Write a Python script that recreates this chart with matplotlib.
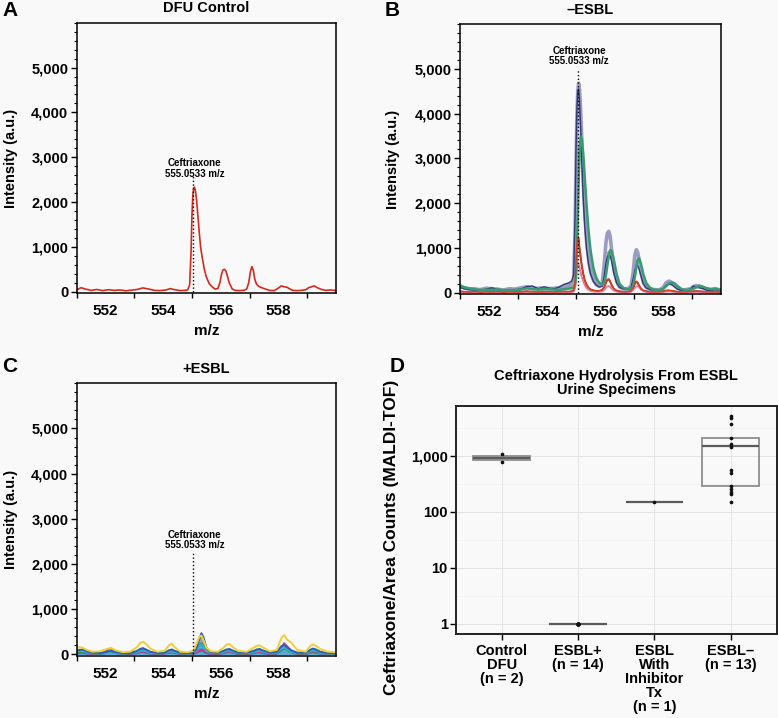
import numpy as np
import matplotlib
matplotlib.use("Agg")
import matplotlib.pyplot as plt
from matplotlib.ticker import FixedLocator, MultipleLocator, FuncFormatter

plt.rcParams['font.family'] = ['Liberation Sans', 'DejaVu Sans']
plt.rcParams['font.weight'] = 'bold'

BG = '#f9f9f9'

# ---- m/z grid used for panels A and B (rows of 10) ----
mz_ab = [551.0, 551.15, 551.3, 551.5, 551.7, 551.9, 552.1, 552.3, 552.5, 552.7,
         552.9, 553.1, 553.3, 553.5, 553.7, 553.9, 554.1, 554.25, 554.4, 554.6,
         554.75, 554.85, 554.92, 554.97, 555.0, 555.03, 555.06, 555.09, 555.12, 555.16,
         555.2, 555.25, 555.3, 555.36, 555.43, 555.5, 555.6, 555.7, 555.8, 555.9,
         555.97, 556.03, 556.08, 556.13, 556.18, 556.23, 556.3, 556.4, 556.5, 556.65,
         556.8, 556.9, 556.97, 557.03, 557.08, 557.13, 557.18, 557.24, 557.32, 557.42,
         557.55, 557.7, 557.85, 558.0, 558.1, 558.2, 558.3, 558.4, 558.5, 558.65,
         558.8, 558.95, 559.05, 559.15, 559.25, 559.35, 559.5, 559.65, 559.8, 560.0]

# Panel A: DFU control
dfu_control = [40, 90, 60, 30, 50, 25, 45, 30, 40, 20,
               35, 50, 85, 60, 30, 25, 40, 70, 45, 25,
               30, 40, 150, 900, 1700, 2150, 2320, 2330, 2250, 2050,
               1750, 1350, 1000, 750, 500, 330, 180, 110, 60, 70,
               200, 400, 490, 500, 460, 350, 190, 60, 30, 25,
               30, 60, 200, 450, 560, 480, 280, 170, 120, 90,
               60, 30, 25, 80, 130, 110, 100, 60, 30, 25,
               30, 45, 90, 110, 130, 90, 50, 30, 40, 25]

# Panel B: -ESBL specimens
neg_gray = [150, 110, 90, 80, 70, 100, 90, 80, 60, 90,
            80, 110, 130, 90, 100, 110, 90, 100, 110, 150,
            180, 220, 300, 1400, 2800, 3900, 4500, 4680, 4550, 4100,
            3400, 2500, 1800, 1200, 750, 480, 280, 180, 140, 200,
            600, 1100, 1330, 1370, 1250, 950, 550, 250, 130, 90,
            90, 160, 450, 850, 960, 900, 700, 450, 230, 120,
            80, 70, 60, 110, 220, 260, 230, 170, 100, 60,
            70, 90, 140, 160, 140, 110, 80, 70, 90, 60]
neg_navy = [120, 90, 70, 60, 50, 80, 110, 70, 50, 60,
            70, 80, 140, 150, 90, 130, 100, 90, 120, 190,
            220, 260, 400, 1800, 3200, 4100, 4500, 4550, 4300, 3700,
            2900, 2100, 1500, 1000, 650, 420, 250, 170, 130, 140,
            350, 650, 800, 850, 820, 700, 450, 220, 120, 80,
            80, 120, 300, 500, 590, 600, 520, 380, 200, 110,
            70, 60, 50, 90, 160, 190, 180, 130, 80, 50,
            60, 80, 150, 120, 110, 100, 60, 50, 70, 40]
neg_green = [160, 120, 100, 80, 60, 70, 60, 80, 50, 60,
             60, 70, 100, 80, 70, 90, 80, 70, 60, 80,
             90, 100, 110, 180, 350, 900, 1700, 2500, 3100, 3480,
             3450, 3100, 2600, 2000, 1400, 950, 550, 330, 220, 180,
             220, 380, 600, 820, 950, 930, 750, 420, 200, 100,
             80, 90, 150, 350, 580, 740, 770, 650, 420, 220,
             110, 70, 60, 80, 140, 200, 230, 210, 150, 80,
             60, 70, 90, 120, 150, 140, 100, 80, 90, 60]
neg_sage = [130, 100, 80, 90, 60, 80, 70, 60, 70, 50,
            70, 90, 110, 100, 80, 70, 90, 80, 90, 110,
            120, 140, 160, 300, 800, 1600, 2400, 2900, 3200, 3300,
            3200, 2800, 2300, 1750, 1200, 800, 450, 280, 190, 170,
            250, 500, 750, 900, 920, 820, 600, 320, 160, 90,
            70, 100, 220, 450, 650, 720, 680, 520, 300, 150,
            90, 60, 50, 90, 170, 210, 200, 160, 110, 60,
            50, 60, 110, 130, 160, 130, 90, 70, 80, 50]
neg_red = [30, 20, 15, 25, 10, 20, 15, 25, 10, 20,
           15, 20, 30, 20, 15, 20, 25, 15, 20, 25,
           20, 30, 50, 250, 700, 1100, 1250, 1200, 1000, 800,
           600, 420, 280, 180, 110, 70, 50, 40, 40, 60,
           120, 220, 290, 300, 250, 170, 90, 45, 30, 20,
           25, 40, 100, 200, 250, 220, 150, 90, 50, 30,
           20, 15, 20, 30, 45, 50, 40, 30, 20, 15,
           20, 25, 30, 35, 30, 25, 20, 15, 20, 10]
neg_pink = [10, 15, 10, 5, 10, 15, 10, 5, 10, 15,
            10, 5, 15, 10, 10, 5, 10, 15, 10, 10,
            10, 15, 20, 100, 350, 580, 660, 640, 560, 450,
            350, 250, 170, 110, 70, 40, 25, 20, 20, 30,
            60, 110, 140, 150, 130, 90, 50, 25, 15, 10,
            10, 20, 60, 110, 140, 150, 120, 70, 40, 20,
            10, 10, 10, 15, 25, 30, 25, 15, 10, 10,
            10, 10, 15, 20, 20, 15, 10, 10, 10, 5]

# ---- m/z grid for panel C ----
mz_c = [551.0, 551.1, 551.2, 551.35, 551.55, 551.8, 552.0, 552.1, 552.2, 552.35,
        552.6, 552.85, 553.1, 553.2, 553.3, 553.4, 553.55, 553.8, 554.05, 554.2,
        554.3, 554.4, 554.6, 554.85, 555.05, 555.15, 555.25, 555.33, 555.4, 555.5,
        555.65, 555.9, 556.1, 556.2, 556.3, 556.4, 556.6, 556.9, 557.15, 557.25,
        557.35, 557.45, 557.7, 557.95, 558.1, 558.2, 558.3, 558.45, 558.65, 558.95,
        559.1, 559.2, 559.3, 559.45, 559.7, 560.0]

pos_purple = [20, 30, 40, 20, 10, 10, 30, 60, 70, 30,
              10, 10, 30, 50, 60, 40, 20, 10, 20, 40,
              50, 30, 10, 10, 20, 40, 70, 90, 70, 30,
              10, 10, 30, 50, 60, 40, 10, 10, 30, 50,
              50, 30, 10, 20, 90, 140, 110, 50, 10, 10,
              40, 50, 40, 20, 10, 10]
pos_magenta = [30, 40, 50, 30, 20, 20, 60, 120, 130, 60,
               20, 20, 40, 60, 70, 50, 30, 20, 20, 40,
               50, 40, 20, 20, 20, 50, 90, 110, 90, 40,
               20, 20, 30, 50, 60, 40, 20, 20, 30, 50,
               60, 40, 20, 30, 150, 250, 180, 80, 20, 20,
               40, 60, 50, 30, 20, 10]
pos_green = [40, 50, 60, 40, 20, 20, 30, 40, 50, 30,
             20, 20, 60, 90, 110, 80, 40, 20, 30, 60,
             80, 60, 20, 20, 30, 100, 200, 250, 190, 80,
             30, 20, 50, 70, 80, 60, 20, 20, 50, 80,
             90, 60, 20, 30, 100, 130, 100, 50, 20, 20,
             60, 70, 60, 30, 20, 10]
pos_cyan = [60, 80, 70, 50, 30, 20, 30, 40, 50, 30,
            20, 30, 50, 80, 90, 70, 40, 20, 30, 60,
            70, 50, 30, 20, 30, 80, 180, 220, 170, 70,
            40, 30, 50, 80, 90, 60, 30, 30, 50, 70,
            80, 60, 30, 40, 120, 150, 110, 60, 30, 30,
            70, 90, 80, 40, 20, 20]
pos_blue = [90, 100, 110, 70, 40, 30, 50, 70, 80, 50,
            30, 30, 80, 120, 140, 110, 60, 30, 40, 90,
            110, 80, 40, 30, 40, 120, 330, 470, 380, 150,
            50, 40, 80, 110, 120, 90, 40, 40, 80, 110,
            120, 90, 40, 60, 180, 210, 160, 90, 40, 40,
            100, 130, 110, 60, 30, 30]
pos_yellow = [140, 160, 150, 100, 60, 70, 110, 130, 140, 90,
              50, 60, 160, 250, 280, 240, 130, 60, 80, 200,
              240, 160, 60, 50, 80, 220, 380, 420, 320, 150,
              70, 60, 150, 220, 230, 170, 80, 60, 150, 190,
              200, 160, 70, 100, 360, 430, 330, 260, 100, 60,
              180, 220, 190, 120, 60, 50]

ceftriaxone_mz = 555.0533

# ---- Panel D: box plot ----
groups = ["Control\nDFU\n(n = 2)", "ESBL+\n(n = 14)",
          "ESBL\nWith\nInhibitor\nTx\n(n = 1)", "ESBL\u2013\n(n = 13)"]
pts_control = [772, 1060]
pts_esbl_pos = [1, 1, 1, 1, 1, 1, 1, 1, 1, 1, 1, 1, 1, 1]
pts_inhib = [151]
pts_esbl_neg = [5100, 4760, 3670, 2094, 1617, 1446, 556, 498, 292, 258, 228, 205, 151]
box_q1 = [838, 1, 151, 288]
box_med = [921, 1, 151, 1490]
box_q3 = [1000, 1, 151, 2094]


def fr(l, t, r, b):
    return [l / 778, 1 - b / 718, (r - l) / 778, (b - t) / 718]


def style_spectrum(ax, title, label_y, ann_y, text_dy):
    ax.set_facecolor(BG)
    ax.set_xlim(551, 560)
    ax.set_ylim(-35, 6000)
    ax.xaxis.set_major_locator(FixedLocator([552, 554, 556, 558]))
    ax.xaxis.set_minor_locator(FixedLocator([551, 553, 555, 557, 559]))
    ax.yaxis.set_major_locator(FixedLocator([0, 1000, 2000, 3000, 4000, 5000]))
    ax.yaxis.set_minor_locator(MultipleLocator(200))
    ax.yaxis.set_major_formatter(FuncFormatter(lambda v, p: f"{v:,.0f}"))
    ax.tick_params(axis='x', which='major', length=0, pad=8, labelsize=11)
    ax.tick_params(axis='x', which='minor', length=3.5, width=1, direction='out')
    ax.tick_params(axis='y', which='major', length=4, width=1, direction='out', labelsize=10.5, pad=2)
    ax.tick_params(axis='y', which='minor', length=2.2, width=0.8, direction='out')
    for s in ax.spines.values():
        s.set_linewidth(1.1)
    ax.set_xlabel("m/z", fontsize=11, weight='bold', labelpad=4)
    ax.set_ylabel("Intensity (a.u.)", fontsize=10.5, weight='bold')
    ax.yaxis.set_label_coords(-0.228, 0.5)
    ax.text(0.5, label_y, title, transform=ax.transAxes, ha='center', va='center',
            fontsize=10.5, weight='bold')
    ax.plot([ceftriaxone_mz, ceftriaxone_mz], [0, ann_y], color='black', ls=':', lw=1.0, zorder=5)
    ax.text(ceftriaxone_mz + 0.05, ann_y + text_dy, "Ceftriaxone\n555.0533 m/z", ha='center', va='bottom',
            fontsize=7, weight='bold', linespacing=1.05, zorder=6)


fig = plt.figure(figsize=(7.78, 7.18), dpi=100, facecolor=BG)

# A
axA = fig.add_axes(fr(76.7, 22.7, 336, 293.3))
axA.plot(mz_ab, dfu_control, color='#d42a1e', lw=1.2)
style_spectrum(axA, "DFU Control", 1.055, 2600, -80)

# B
axB = fig.add_axes(fr(460, 24, 721, 294.3))
axB.plot(mz_ab, neg_red, color='#8a2a14', lw=1.4)
axB.plot(mz_ab, neg_pink, color='#e27aa8', lw=1.3)
axB.plot(mz_ab, neg_sage, color='#86ab9f', lw=2.2)
axB.plot(mz_ab, neg_gray, color='#9c9cc2', lw=2.6)
axB.plot(mz_ab, neg_navy, color='#2c3a78', lw=1.0)
axB.plot(mz_ab, neg_green, color='#3a9a72', lw=1.8)
axB.plot(mz_ab, neg_red, color='#d8401c', lw=1.0)
style_spectrum(axB, "\u2013ESBL", 1.05, 5000, 60)

# C
axC = fig.add_axes(fr(76.7, 383.3, 336, 656))
axC.fill_between(mz_c, pos_blue, color='#2b5fae', alpha=0.55, lw=0)
axC.fill_between(mz_c, pos_cyan, color='#3aaad6', alpha=0.6, lw=0)
for vals, col in [(pos_purple, '#6a4c9c'), (pos_magenta, '#c0408a'), (pos_green, '#3c9a48'),
                  (pos_cyan, '#3aaad6'), (pos_blue, '#2b5fae'), (pos_yellow, '#f0d030')]:
    axC.plot(mz_c, vals, color=col, lw=1.4)
style_spectrum(axC, "+ESBL", 1.052, 2250, 60)

# D
axD = fig.add_axes(fr(456, 406, 776.5, 634))
axD.set_facecolor(BG)
axD.set_yscale('log')
axD.set_ylim(0.66, 7700)
axD.set_xlim(0.4, 4.6)
for k in range(-1, 4):
    axD.axhline(10 ** (k + 0.5), color='#f1f1f1', lw=0.5, zorder=0)
for v in [1, 10, 100, 1000]:
    axD.axhline(v, color='#e4e4e4', lw=0.7, zorder=0)
for x in [1, 2, 3, 4]:
    axD.axvline(x, color='#e4e4e4', lw=0.7, zorder=0)

stats = []
for i in range(4):
    stats.append(dict(med=box_med[i], q1=box_q1[i], q3=box_q3[i],
                      whislo=box_q1[i], whishi=box_q3[i], fliers=[]))
axD.bxp(stats, positions=[1, 2, 3, 4], widths=0.75, showcaps=False, showfliers=False,
        patch_artist=True,
        boxprops=dict(facecolor='none', edgecolor='#8e8e8e', linewidth=1.3),
        medianprops=dict(color='#5a5a5a', linewidth=1.6),
        whiskerprops=dict(linewidth=0))
for i, pts in enumerate([pts_control, pts_esbl_pos, pts_inhib, pts_esbl_neg]):
    axD.scatter(np.full(len(pts), i + 1), pts, s=7, color='#111111', zorder=4, linewidths=0)

axD.yaxis.set_major_locator(FixedLocator([1, 10, 100, 1000]))
axD.yaxis.set_minor_locator(FixedLocator([]))
axD.yaxis.set_major_formatter(FuncFormatter(lambda v, p: f"{v:,.0f}"))
axD.set_xticks([1, 2, 3, 4])
axD.set_xticklabels(groups, linespacing=1.0)
axD.tick_params(axis='both', length=4, width=1, direction='out', labelsize=10.5)
axD.tick_params(axis='x', pad=3)
axD.tick_params(axis='y', pad=2)
for s in axD.spines.values():
    s.set_linewidth(1.4)
    s.set_color('#222222')
axD.set_ylabel("Ceftriaxone/Area Counts (MALDI-TOF)", fontsize=12.5, weight='bold')
axD.yaxis.set_label_coords(-0.178, 0.425)
axD.text(0.5, 1.10, "Ceftriaxone Hydrolysis From ESBL\nUrine Specimens", transform=axD.transAxes,
         ha='center', va='center', fontsize=10.5, weight='bold', linespacing=1.0)

# panel letters
for lab, x, y in [("A", 2, 10), ("B", 385, 10), ("C", 2, 366), ("D", 390, 366)]:
    fig.text(x / 778, 1 - y / 718, lab, fontsize=15, weight='bold', ha='left', va='center')

fig.savefig("out.png", dpi=100, facecolor=BG)
